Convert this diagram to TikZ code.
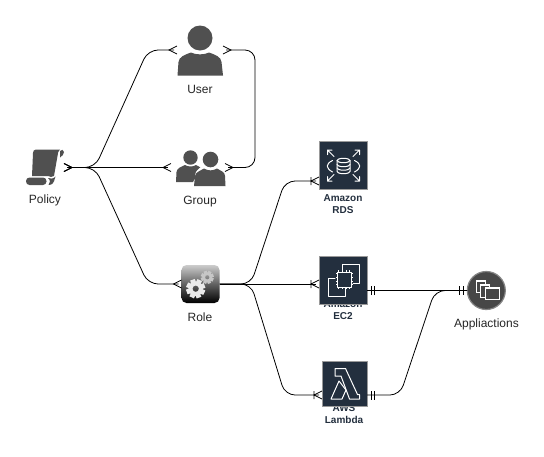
\documentclass[tikz,border=0pt]{standalone}
\usepackage{fontspec}
\setmainfont{Liberation Sans}
\usetikzlibrary{arrows.meta,calc}
\definecolor{awsnavy}{HTML}{232F3E}
\definecolor{icongray}{HTML}{505050}

% one cog: centre, outer radius, hole radius, colour
\newcommand{\cog}[4]{
  \foreach \a in {0,45,...,315}
    \fill[#4,rotate around={\a+20:(#1)}] ($(#1)+(-#2*0.26,-#2*0.6)$) rectangle ($(#1)+(#2*0.26,-#2)$);
  \fill[#4,even odd rule] (#1) circle (#2*0.76) (#1) circle (#3);
}

% crow's foot, with a bar at its vertex, and the double bar
\pgfdeclarearrow{name=crow,
  setup code={\pgfarrowssettipend{0pt}\pgfarrowssetlineend{-3pt}\pgfarrowssetbackend{-8pt}\pgfarrowssetvisualbackend{-8pt}
    \pgfarrowshullpoint{0pt}{4pt}\pgfarrowshullpoint{0pt}{-4pt}},
  drawing code={\pgfsetlinewidth{0.7pt}
    \pgfpathmoveto{\pgfpoint{0pt}{4pt}}\pgfpathlineto{\pgfpoint{-8pt}{0pt}}\pgfpathlineto{\pgfpoint{0pt}{-4pt}}
    \pgfusepathqstroke}}
\pgfdeclarearrow{name=crowbar,
  setup code={\pgfarrowssettipend{0pt}\pgfarrowssetlineend{-3pt}\pgfarrowssetbackend{-8pt}\pgfarrowssetvisualbackend{-8pt}
    \pgfarrowshullpoint{0pt}{4pt}\pgfarrowshullpoint{0pt}{-4pt}},
  drawing code={\pgfsetlinewidth{0.7pt}
    \pgfpathmoveto{\pgfpoint{0pt}{4pt}}\pgfpathlineto{\pgfpoint{-8pt}{0pt}}\pgfpathlineto{\pgfpoint{0pt}{-4pt}}
    \pgfpathmoveto{\pgfpoint{-8pt}{4pt}}\pgfpathlineto{\pgfpoint{-8pt}{-4pt}}
    \pgfusepathqstroke}}
\pgfdeclarearrow{name=twobar,
  setup code={\pgfarrowssettipend{0pt}\pgfarrowssetlineend{0pt}\pgfarrowssetbackend{-8pt}\pgfarrowssetvisualbackend{-8pt}
    \pgfarrowshullpoint{0pt}{4.5pt}\pgfarrowshullpoint{0pt}{-4.5pt}},
  drawing code={\pgfsetlinewidth{0.8pt}
    \pgfpathmoveto{\pgfpoint{-4pt}{4.5pt}}\pgfpathlineto{\pgfpoint{-4pt}{-4.5pt}}
    \pgfpathmoveto{\pgfpoint{-7.5pt}{4.5pt}}\pgfpathlineto{\pgfpoint{-7.5pt}{-4.5pt}}
    \pgfusepathqstroke}}

\begin{document}
\begin{tikzpicture}
[x=1pt,y=-1pt,font={\fontsize{12}{14}\selectfont},
 label/.style={inner sep=0pt,align=center,text=black!85},
 awslabel/.style={inner sep=0pt,align=center,text=awsnavy,font={\fontsize{10}{12}\selectfont\bfseries}},
 icon/.style={inner sep=0pt,outer sep=0pt},
 awsicon/.style={rectangle,fill=awsnavy,draw=black!40,line width=0.4pt,inner sep=0pt,outer sep=0pt},
 glyph/.style={draw=white,line width=1pt,line cap=round,line join=round},
 link/.style={draw=black,line width=0.8pt,rounded corners=10pt},
 tomany/.style={link,-crowbar},
 manyboth/.style={link,crow-crow},
 onlyone/.style={link,twobar-twobar}]
\useasboundingbox (0,0) rectangle (544,456);

% labels first, the aws icons lie over them
\node (tpolicy) at (45,200.5) [label] {Policy};
\node (tuser) at (200,89) [label] {User};
\node (tgroup) at (200,202) [label] {Group};
\node (trole) at (200,317) [label] {Role};
\node (tapps) at (486.5,324) [label] {Appliactions};
\node (trds) at (343,204) [awslabel] {Amazon\\RDS};
\node (tec2) at (343,310) [awslabel] {Amazon\\EC2};
\node (tlambda) at (344,414) [awslabel] {AWS\\Lambda};

% nodes
\node (policy) at (44,167.5) [icon,minimum width=40pt,minimum height=36pt] {};
\node (user) at (200,50) [icon,minimum width=46pt,minimum height=50pt] {};
\node (group) at (198,167.5) [icon,minimum width=54pt,minimum height=38pt] {};
\node (role) at (200.5,284) [rectangle,rounded corners=5pt,inner sep=0pt,outer sep=0pt,
  minimum width=38pt,minimum height=38pt,top color=black!20,bottom color=black,middle color=black!62] {};
\node (rds) at (343,165) [awsicon,minimum width=48pt,minimum height=48pt] {};
\node (ec2) at (343,280) [awsicon,minimum width=48pt,minimum height=48pt] {};
\node (lambda) at (344.5,384) [awsicon,minimum width=45pt,minimum height=45pt] {};
\node (apps) at (486.3,290.5) [circle,fill=black!72,draw=black!48,line width=1.2pt,inner sep=0pt,outer sep=0pt,minimum size=38pt] {};

% user
\fill[icongray] (200,38) circle (12.5);
\fill[icongray] (177.5,75.5) -- (178.5,62) .. controls (179,57) and (184,55) .. (191,52.5)
  .. controls (196,55) and (204,55) .. (209,52.5) .. controls (216,55) and (221,57) .. (221.5,62) -- (223,75.5) -- cycle;
% group
\fill[icongray] (190.5,157.5) circle (7.2);
\fill[icongray] (176,182) -- (176.5,172) .. controls (177,168) and (181,167) .. (185,165)
  .. controls (188,167) and (193,167) .. (196,165) .. controls (198,166) and (200,167) .. (201,168) -- (193,182) -- cycle;
\fill[white] (195,186) -- (195,175) .. controls (196,170) and (199,169) .. (202,166) -- (218,166) -- (225,186) -- cycle;
\fill[icongray] (210.5,159.5) circle (7.8);
\fill[icongray] (194,186) -- (195,176) .. controls (195.5,172) and (200,171) .. (204,168.5)
  .. controls (208,171) and (213,171) .. (217,168.5) .. controls (221,171) and (225,172) .. (225,176) -- (225.5,186) -- cycle;
% policy scroll
\fill[icongray] (32,176) -- (33,153) .. controls (33,151) and (34,149.5) .. (36,149.5) -- (60,149.5)
  .. controls (58,151) and (58,153) .. (57.5,156) -- (54,176) .. controls (52,178) and (50,176.5) .. (48,176) -- cycle;
\fill[icongray] (60,151) .. controls (61,149) and (64,149.5) .. (64,152) .. controls (64,154) and (62,156.5) .. (60,157.5) -- cycle;
\fill[icongray,rounded corners=3.5pt] (26,177.5) rectangle (46.5,185);
\fill[icongray] (48.5,185) .. controls (52,185) and (54,183) .. (55,178) -- (55.5,176.5) .. controls (53,179.5) and (50,178.5) .. (48,178) .. controls (50.5,180) and (50.5,183) .. (48.5,185) -- cycle;
% role cogs
\cog{207.3,277.3}{6.5}{2.2}{black!22}
\cog{195.7,288.7}{9.5}{3.2}{black!8}
% rds
\draw[glyph] (327.5,150) -- (334,156.5) (327.5,154.5) -- (327.5,150) -- (332,150);
\draw[glyph] (359.5,150) -- (353,156.5) (359.5,154.5) -- (359.5,150) -- (355,150);
\draw[glyph] (327.5,181) -- (334,174.5) (327.5,176.5) -- (327.5,181) -- (332,181);
\draw[glyph] (359.5,181) -- (353,174.5) (359.5,176.5) -- (359.5,181) -- (355,181);
\draw[glyph] (332.5,160.5) .. controls (325.5,164) and (325.5,168) .. (332.5,172);
\draw[glyph] (354.5,160.5) .. controls (361.5,164) and (361.5,168) .. (354.5,172);
\draw[glyph] (343.5,160.5) circle (6.5 and 2.2);
\draw[glyph] (337,160.5) -- (337,171.5) arc (180:0:6.5 and 2.2) -- (350,160.5);
\draw[glyph] (337,164.5) arc (180:0:6.5 and 2.2) (337,168) arc (180:0:6.5 and 2.2);
% ec2
\draw[glyph] (342,270) -- (342,264) -- (359,264) -- (359,283) -- (353,283);
\draw[glyph] (335,278) -- (328,278) -- (328,296) -- (345,296) -- (345,288);
\draw[glyph] (337,272) rectangle (351,287);
\foreach \i in {0,1,2,3} {
  \draw[white,line width=0.6pt] (338.5+\i*3.7,271.5) -- ++(0,-1.5) (338.5+\i*3.7,287) -- ++(0,1.5);
  \draw[white,line width=0.6pt] (337,273.5+\i*3.7) -- ++(-1.5,0) (351,273.5+\i*3.7) -- ++(1.5,0);
}
% lambda
\draw[glyph] (335,368.5) -- (345.5,368.5) -- (357.5,394.5) -- (359.5,394.5) -- (359.5,399) -- (349.5,399) -- (341,376) -- (335,376) -- cycle;
\draw[glyph] (339,381) -- (331,399) -- (342,399) -- (346,390) -- cycle;
% applications
\foreach \x/\y/\w/\h in {476/280.5/9/12,480.5/284/9/13,485.5/287/14/12.5} {
  \draw[fill=black!72,draw=white,line width=0.8pt] (\x,\y) rectangle (\x+\w,\y+\h);
  \fill[white] (\x,\y) rectangle (\x+\w,\y+1.6);
}

% connectors
\draw[manyboth] (policy.east) -- (95,167.5) -- (148,50) -- (user.west);
\draw[manyboth] (policy.east) -- (group.west);
\draw[manyboth] (policy.east) -- (95,167.5) -- (148,284) -- (role.west);
\draw[manyboth] (user.east) -- (255,50) -- (255,167.5) -- (group.east);

\draw[tomany] (role.east) -- (251,284) -- (285,181) -- (rds.west |- 0,181);
\draw[tomany] (role.east) -- (ec2.west |- role.east);
\draw[tomany] (role.east) -- (251,284) -- (285,395) -- (lambda.west |- 0,395);

\draw[onlyone] (ec2.east |- 0,290.5) -- (apps.west |- 0,290.5);
\draw[onlyone] (lambda.east |- 0,395) -- (400,395) -- (435,290.5) -- (apps.west |- 0,290.5);
\end{tikzpicture}
\end{document}
